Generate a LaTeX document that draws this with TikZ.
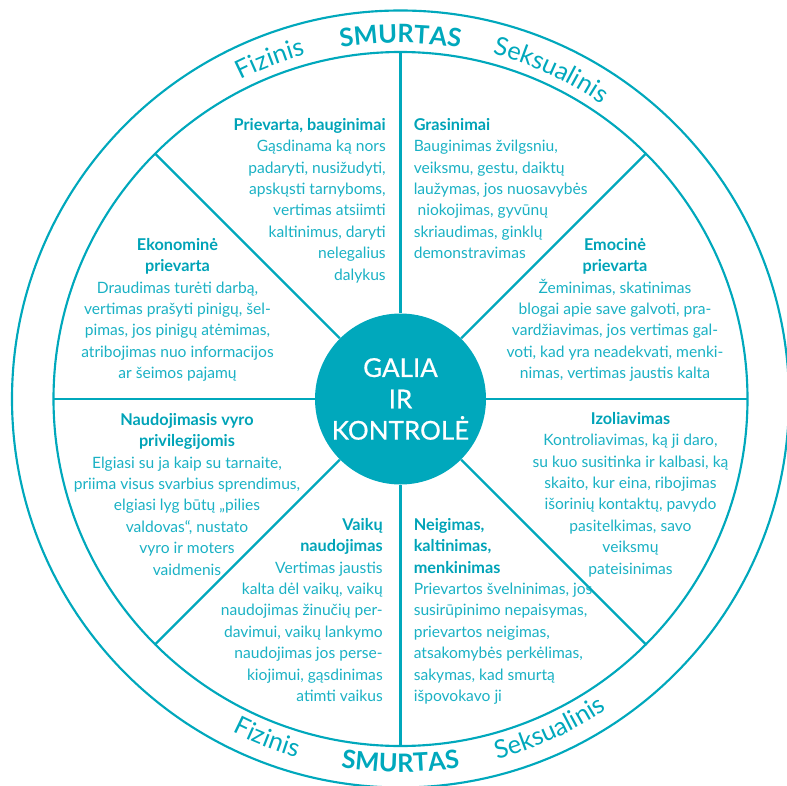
\documentclass[tikz,border=0pt]{standalone}
\usepackage{fontspec}
\setmainfont{Lato}
\usetikzlibrary{decorations.text}
\definecolor{ringc}{HTML}{00A8BC}
\definecolor{txtc}{HTML}{1AB1C4}
\definecolor{headc}{HTML}{00A3B7}
\newcommand{\hd}[1]{{\fontsize{12.2}{16.05}\selectfont\bfseries\color{headc}#1}}
\newcommand{\ringbold}{\bfseries\fontsize{19}{19}\selectfont}
\newcommand{\ringreg}{\fontsize{19}{19}\selectfont}
\tikzset{
  ringline/.style={draw=ringc, line width=1.6pt},
  body/.style={text=txtc, font=\fontsize{11.7}{16.05}\selectfont, inner sep=0pt},
  ringtext/.style={decorate, decoration={text along path, text align=center, text={#1}}},
}
\begin{document}
\begin{tikzpicture}[x=0.75pt,y=0.75pt]
\useasboundingbox (-400.5,-386) rectangle (386.5,399);
\clip (-400.5,-386) rectangle (386.5,399);
\draw[ringline] (0,0) circle[radius=388.5];
\draw[ringline] (0,0) circle[radius=347];
\node[circle, fill=ringc, minimum size=128.25pt, inner sep=0pt, text=white, align=center,
      font=\fontsize{19.5}{23.5}\selectfont\addfontfeatures{FakeBold=0.6}] (core) at (0,0) {GALIA\\IR\\KONTROLĖ};
\foreach \a in {0,45,...,315} {
  \coordinate (s\a) at (\a:347);
  \draw[ringline] (core) -- (s\a);
}
% ring labels, top (clockwise arcs)
\path[ringtext={|\color{ringc}\ringbold|SMURTAS}] (120:356) arc[start angle=120, end angle=60, radius=356];
\path[ringtext={|\color{ringc}\ringreg|Fizinis}] (141:357) arc[start angle=141, end angle=81, radius=357];
\path[ringtext={|\color{ringc}\ringreg|Seksualinis}] (95.4:357) arc[start angle=95.4, end angle=35.4, radius=357];
% ring labels, bottom (counterclockwise arcs)
\path[ringtext={|\color{ringc}\ringbold|SMURTAS}] (240:373) arc[start angle=240, end angle=300, radius=373];
\path[ringtext={|\color{ringc}\ringreg|Fizinis}] (218.5:373) arc[start angle=218.5, end angle=278.5, radius=373];
\path[ringtext={|\color{ringc}\ringreg|Seksualinis}] (264.3:373) arc[start angle=264.3, end angle=324.3, radius=373];
% sector texts
\node[body, align=right, anchor=north east] (prievarta) at (-14.5,281)
 {\hd{Prievarta, bauginimai}\\Gąsdinama ką nors\\padaryti, nusižudyti,\\apskųsti tarnyboms,\\vertimas atsiimti\\kaltinimus, daryti\\nelegalius\\dalykus};
\node[body, align=left, anchor=north west] (grasinimai) at (13,281)
 {\hd{Grasinimai}\\Bauginimas žvilgsniu,\\veiksmu, gestu, daiktų\\laužymas, jos nuosavybės\\\hspace*{0.25em}niokojimas, gyvūnų\\skriaudimas, ginklų\\demonstravimas};
\node[body, align=center, anchor=north] (emocine) at (214.5,161)
 {\hd{Emocinė}\\\hd{prievarta}\\Žeminimas, skatinimas\\blogai apie save galvoti, pra-\\vardžiavimas, jos vertimas gal-\\voti, kad yra neadekvati, menki-\\nimas, vertimas jaustis kalta};
\node[body, align=center, anchor=north] (izoliavimas) at (230,-13)
 {\hd{Izoliavimas}\\Kontroliavimas, ką ji daro,\\su kuo susitinka ir kalbasi, ką\\skaito, kur eina, ribojimas\\išorinių kontaktų, pavydo\\pasitelkimas, savo\\veiksmų\\pateisinimas};
\node[body, align=left, anchor=north west] (neigimas) at (13,-119)
 {\hd{Neigimas,}\\\hd{kaltinimas,}\\\hd{menkinimas}\\Prievartos švelninimas, jos\\susirūpinimo nepaisymas,\\prievartos neigimas,\\atsakomybės perkėlimas,\\sakymas, kad smurtą\\išpovokavo ji};
\node[body, align=right, anchor=north east] (vaiku) at (-17.5,-119)
 {\hd{Vaikų}\\\hd{naudojimas}\\Vertimas jaustis\\kalta dėl vaikų, vaikų\\naudojimas žinučių per-\\davimui, vaikų lankymo\\naudojimas jos perse-\\kiojimui, gąsdinimas\\atimti vaikus};
\node[body, align=center, anchor=north] (privilegijos) at (-213.5,-14)
 {\hd{Naudojimasis vyro}\\\hd{privilegijomis}\\Elgiasi su ja kaip su tarnaite,\\priima visus svarbius sprendimus,\\elgiasi lyg būtų „pilies\\valdovas“, nustato\\vyro ir moters\\vaidmenis};
\node[body, align=center, anchor=north] (ekonomine) at (-223,161)
 {\hd{Ekonominė}\\\hd{prievarta}\\Draudimas turėti darbą,\\vertimas prašyti pinigų, šel-\\pimas, jos pinigų atėmimas,\\atribojimas nuo informacijos\\ar šeimos pajamų};
\end{tikzpicture}
\end{document}
